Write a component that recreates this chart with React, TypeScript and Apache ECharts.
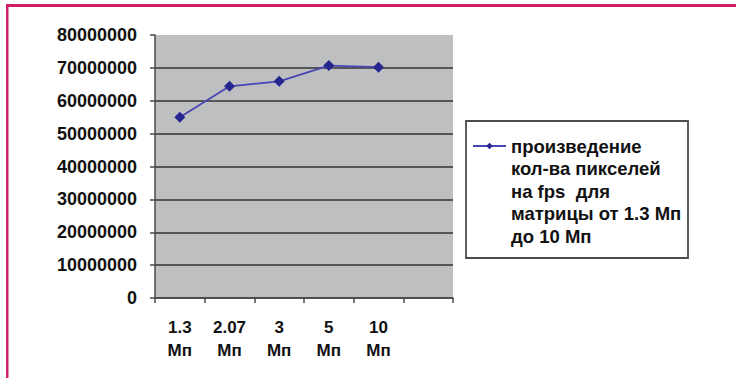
import React, { useEffect, useRef } from "react";
import * as echarts from "echarts";

// Resolution categories (Мп) and pixels × fps product for each sensor
const categories: string[] = ["1.3\nМп", "2.07\nМп", "3\nМп", "5\nМп", "10\nМп", ""];
const pixelRate: number[] = [55000000, 64400000, 65900000, 70700000, 70200000];
const seriesName = "произведение\nкол-ва пикселей\nна fps  для\nматрицы от 1.3 Мп\nдо 10 Мп";

const yMin = 0;
const yMax = 80000000;
const yStep = 10000000;

const FONT = "'Liberation Sans', Arial, sans-serif";

export default function App() {
  const ref = useRef<HTMLDivElement>(null);

  useEffect(() => {
    if (!ref.current) return;
    const chart = echarts.init(ref.current, null, { renderer: "svg" });
    const legendLine = 22.5;
    const legendLines = seriesName.split("\n").length;
    // blank lines above the name so that the icon sits beside the first line
    const lead = "\n".repeat(legendLines - 1);
    const legendIconY = 146;
    chart.setOption({
      animation: false,
      backgroundColor: "#ffffff",
      textStyle: { fontFamily: FONT },
      grid: {
        left: 155,
        top: 35,
        right: 283,
        bottom: 80,
        show: true,
        backgroundColor: "#bebfc1",
        borderWidth: 0,
      },
      xAxis: {
        type: "category",
        data: categories,
        boundaryGap: true,
        axisLine: { lineStyle: { color: "#4a4a4a", width: 1.5 } },
        axisTick: { show: true, length: 5, inside: false, lineStyle: { color: "#4a4a4a", width: 1.5 } },
        axisLabel: {
          interval: 0,
          margin: 18,
          color: "#111111",
          fontFamily: FONT,
          fontWeight: "bold",
          fontSize: 17,
          lineHeight: 23,
        },
        splitLine: { show: false },
      },
      yAxis: {
        type: "value",
        min: yMin,
        max: yMax,
        interval: yStep,
        axisLine: { show: true, lineStyle: { color: "#4a4a4a", width: 1.5 } },
        axisTick: { show: true, length: 5, lineStyle: { color: "#4a4a4a", width: 1.5 } },
        axisLabel: {
          margin: 18,
          color: "#111111",
          fontFamily: FONT,
          fontWeight: "bold",
          fontSize: 18,
          formatter: (v: number) => String(v),
        },
        splitLine: {
          show: true,
          showMaxLine: false,
          lineStyle: { color: "#333333", width: 1.5 },
        },
      },
      legend: {
        show: true,
        selectedMode: false,
        orient: "vertical",
        left: 472,
        top: legendIconY - ((2 * legendLines - 1) * legendLine) / 2,
        padding: 0,
        itemWidth: 33,
        itemHeight: 8,
        itemGap: 0,
        formatter: (name: string) => lead + name,
        textStyle: {
          color: "#111111",
          fontFamily: FONT,
          fontWeight: "bold",
          fontSize: 18.5,
          lineHeight: legendLine,
        },
        data: [seriesName],
      },
      graphic: [
        // legend frame
        {
          type: "rect",
          z: 1,
          shape: { x: 466, y: 121, width: 222, height: 137 },
          style: { fill: "#ffffff", stroke: "#4d4d4d", lineWidth: 1.8 },
        },
        // magenta frame along the top and left edges
        {
          type: "rect",
          z: 10,
          shape: { x: 6, y: 4, width: 730, height: 3 },
          style: { fill: "#d21d6a" },
        },
        {
          type: "rect",
          z: 10,
          shape: { x: 6, y: 4, width: 2.5, height: 374 },
          style: { fill: "#d21d6a" },
        },
      ],
      series: [
        {
          name: seriesName,
          type: "line",
          data: pixelRate,
          symbol: "diamond",
          symbolSize: 11,
          showSymbol: true,
          lineStyle: { color: "#4646b4", width: 1.8 },
          itemStyle: { color: "#262690" },
          z: 5,
        },
      ],
    });
    return () => chart.dispose();
  }, []);

  return (
    <div
      ref={ref}
      style={{ position: "fixed", left: 0, top: 0, width: 736, height: 378 }}
    />
  );
}
